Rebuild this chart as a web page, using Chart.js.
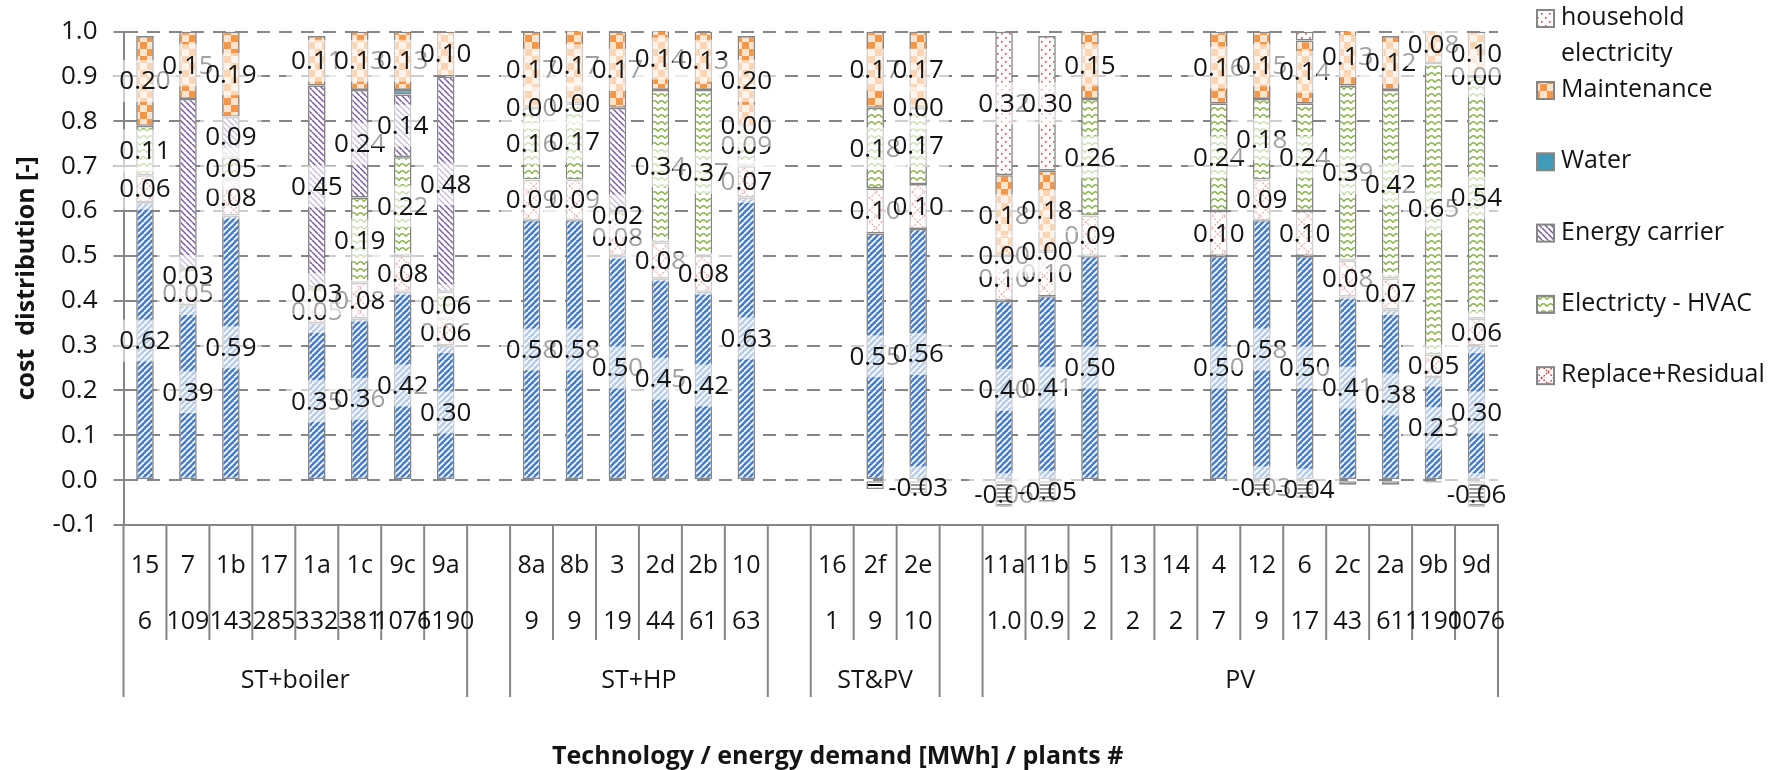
<!DOCTYPE html>
<html lang="en">
<head>
  <meta charset="UTF-8">
  <title>Cost distribution</title>
  <script src="https://cdn.jsdelivr.net/npm/chart.js"></script>
  <style>
    body { margin: 0; background: #fff; }
  </style>
</head>
<body>
  <canvas id="costChart" width="1784" height="770"></canvas>

  <script>
    // categories (empty entries are the gaps between the technology groups)
    const plants = ['15', '7', '1b', '17', '1a', '1c', '9c', '9a', '',
      '8a', '8b', '3', '2d', '2b', '10', '',
      '16', '2f', '2e', '',
      '11a', '11b', '5', '13', '14', '4', '12', '6', '2c', '2a', '9b', '9d'];
    const demand = ['6', '109', '143', '285', '332', '381', '1076', '1190', '',
      '9', '9', '19', '44', '61', '63', '',
      '1', '9', '10', '',
      '1.0', '0.9', '2', '2', '2', '7', '9', '17', '43', '61', '1190', '1076'];
    const groupNames = ['ST+boiler', '', 'ST+HP', '', 'ST&PV', '', 'PV'];
    const groupSizes = [8, 1, 6, 1, 3, 1, 12];

    // series values, bottom of the stack first
    const investment = [0.62, 0.39, 0.59, null, 0.35, 0.36, 0.42, 0.30, null,
      0.58, 0.58, 0.50, 0.45, 0.42, 0.63, null,
      null, 0.55, 0.56, null,
      0.40, 0.41, 0.50, null, null, 0.50, 0.58, 0.50, 0.41, 0.38, 0.23, 0.30];
    const replaceResidual = [0.06, 0.05, 0.08, null, 0.05, 0.08, 0.08, 0.06, null,
      0.09, 0.09, 0.08, 0.08, 0.08, 0.07, null,
      null, 0.10, 0.10, null,
      0.10, 0.10, 0.09, null, null, 0.10, 0.09, 0.10, 0.08, 0.07, 0.05, 0.06];
    const electricityHvac = [0.11, 0.03, 0.05, null, 0.03, 0.19, 0.22, 0.06, null,
      0.16, 0.17, 0.02, 0.34, 0.37, 0.09, null,
      null, 0.18, 0.17, null,
      null, null, 0.26, null, null, 0.24, 0.18, 0.24, 0.39, 0.42, 0.65, 0.54];
    const energyCarrier = [null, 0.38, 0.09, null, 0.45, 0.24, 0.14, 0.48, null,
      null, null, 0.23, null, null, null, null,
      null, null, null, null,
      null, null, null, null, null, null, null, null, null, null, null, null];
    const water = [null, null, null, null, null, null, 0.01, null, null,
      0.00, 0.00, null, null, null, 0.00, null,
      null, null, 0.00, null,
      0.00, 0.00, null, null, null, null, null, null, null, null, null, 0.00];
    const maintenance = [0.20, 0.15, 0.19, null, 0.11, 0.13, 0.13, 0.10, null,
      0.17, 0.17, 0.17, 0.14, 0.13, 0.20, null,
      null, 0.17, 0.17, null,
      0.18, 0.18, 0.15, null, null, 0.16, 0.15, 0.14, 0.13, 0.12, 0.08, 0.10];
    const householdElec = [null, null, null, null, null, null, null, null, null,
      null, null, null, null, null, null, null,
      null, null, null, null,
      0.32, 0.30, null, null, null, null, null, 0.02, null, null, null, null];
    const revenue = [null, null, null, null, null, null, null, null, null,
      null, null, null, null, null, null, null,
      null, -0.02, -0.03, null,
      -0.06, -0.05, null, null, null, null, -0.03, -0.04, -0.01, -0.01, -0.005, -0.06];

    // labels that are not visible in the original
    const hiddenLabels = {
      energyCarrier: ['7', '3'],
      water: ['9c'],
      household: ['6'],
      revenue: ['2f', '2c', '2a', '9b']
    };

    const gray = '#868686';
    const textColor = '#141414';
    const fontFamily = '"Open Sans", "Liberation Sans", sans-serif';

    const ctx = document.getElementById('costChart').getContext('2d');

    function makePattern(w, h, paint) {
      const c = document.createElement('canvas');
      c.width = w;
      c.height = h;
      const g = c.getContext('2d');
      g.fillStyle = '#fff';
      g.fillRect(0, 0, w, h);
      paint(g, w, h);
      return ctx.createPattern(c, 'repeat');
    }

    const patterns = {
      blue: makePattern(6, 6, (g, w, h) => {
        g.fillStyle = '#4a7fc4';
        g.fillRect(0, 0, w, h);
        g.strokeStyle = '#fff';
        g.lineWidth = 1.7;
        [-w, 0, w].forEach(k => { g.beginPath(); g.moveTo(k, h); g.lineTo(k + w, 0); g.stroke(); });
      }),
      red: makePattern(12, 12, (g, w, h) => {
        g.strokeStyle = '#c8423f';
        g.lineWidth = 1.3;
        g.setLineDash([2, 1.5]);
        g.beginPath(); g.moveTo(0, h); g.lineTo(w, 0); g.stroke();
        g.beginPath(); g.moveTo(0, 0); g.lineTo(w, h); g.stroke();
      }),
      green: makePattern(7, 7, (g) => {
        g.strokeStyle = '#8ab24a';
        g.lineWidth = 1.5;
        g.beginPath(); g.moveTo(0, 5.5); g.quadraticCurveTo(3.5, 0, 7, 5.5); g.stroke();
      }),
      purple: makePattern(6, 6, (g, w, h) => {
        g.strokeStyle = '#7a5aa6';
        g.lineWidth = 1.5;
        [-w, 0, w].forEach(k => { g.beginPath(); g.moveTo(k, 0); g.lineTo(k + w, h); g.stroke(); });
      }),
      teal: '#3f9bb8',
      orange: makePattern(14, 14, (g) => {
        g.fillStyle = '#fde4cf';
        g.fillRect(0, 0, 14, 14);
        g.fillStyle = '#f79646';
        g.fillRect(0, 0, 7, 7);
        g.fillRect(7, 7, 7, 7);
      }),
      dots: makePattern(8, 8, (g) => {
        g.fillStyle = '#c8423f';
        g.fillRect(1, 1, 1.6, 1.6);
        g.fillRect(5, 5, 1.6, 1.6);
      }),
      black: makePattern(4, 4, (g) => {
        g.fillStyle = '#000';
        g.fillRect(0, 0, 4, 2);
      })
    };

    const series = [
      { key: 'investment', label: 'Investment', data: investment, fill: patterns.blue, legend: false },
      { key: 'replace', label: 'Replace+Residual', data: replaceResidual, fill: patterns.red, legend: true },
      { key: 'hvac', label: 'Electricty - HVAC', data: electricityHvac, fill: patterns.green, legend: true },
      { key: 'energyCarrier', label: 'Energy carrier', data: energyCarrier, fill: patterns.purple, legend: true },
      { key: 'water', label: 'Water', data: water, fill: patterns.teal, legend: true },
      { key: 'maintenance', label: 'Maintenance', data: maintenance, fill: patterns.orange, legend: true },
      { key: 'household', label: 'household electricity', data: householdElec, fill: patterns.dots, legend: true },
      { key: 'revenue', label: 'Revenue', data: revenue, fill: patterns.black, legend: false }
    ];

    // value labels with the semi-transparent white box
    const barLabels = {
      id: 'barLabels',
      afterDatasetsDraw(chart) {
        const c = chart.ctx;
        c.save();
        c.font = '26px ' + fontFamily;
        c.textAlign = 'center';
        c.textBaseline = 'middle';
        series.forEach((s, di) => {
          const meta = chart.getDatasetMeta(di);
          const hide = hiddenLabels[s.key] || [];
          s.data.forEach((v, i) => {
            if (v === null || hide.includes(plants[i])) return;
            const el = meta.data[i];
            const cx = el.x;
            const cy = (el.y + el.base) / 2;
            const txt = v.toFixed(2);
            const tw = c.measureText(txt).width;
            c.fillStyle = 'rgba(255,255,255,0.6)';
            c.fillRect(cx - tw / 2 - 5, cy - 21, tw + 10, 42);
            c.fillStyle = textColor;
            c.fillText(txt, cx, cy + 1);
          });
        });
        c.restore();
      }
    };

    // multi level category axis, axis titles and legend
    const decorations = {
      id: 'decorations',
      afterDraw(chart) {
        const c = chart.ctx;
        const area = chart.chartArea;
        const x = chart.scales.x;
        const half = (x.getPixelForValue(1) - x.getPixelForValue(0)) / 2;
        const y0 = area.bottom;

        const groupEdges = new Set([0]);
        let k = 0;
        groupSizes.forEach(n => { k += n; groupEdges.add(k); });

        c.save();
        c.strokeStyle = gray;
        c.lineWidth = 2;
        for (let i = 0; i <= plants.length; i++) {
          const bx = i < plants.length ? x.getPixelForValue(i) - half : x.getPixelForValue(i - 1) + half;
          c.beginPath();
          c.moveTo(bx, y0);
          c.lineTo(bx, groupEdges.has(i) ? y0 + 172 : y0 + 115);
          c.stroke();
        }

        c.fillStyle = textColor;
        c.font = '25px ' + fontFamily;
        c.textAlign = 'center';
        c.textBaseline = 'middle';
        plants.forEach((p, i) => {
          const cx = x.getPixelForValue(i);
          c.fillText(p, cx, y0 + 41);
          c.fillText(demand[i], cx, y0 + 97);
        });
        let start = 0;
        groupSizes.forEach((n, g) => {
          const mid = (x.getPixelForValue(start) + x.getPixelForValue(start + n - 1)) / 2;
          c.fillText(groupNames[g], mid, y0 + 156);
          start += n;
        });

        // axis titles
        c.font = 'bold 25px ' + fontFamily;
        c.fillText('Technology / energy demand [MWh] / plants #', (area.left + area.right) / 2 + 27, y0 + 232);
        c.save();
        c.translate(27, (area.top + area.bottom) / 2);
        c.rotate(-Math.PI / 2);
        c.fillText('cost  distribution [-]', 0, 0);
        c.restore();

        // legend (top entry first, as in the original)
        c.font = '25px ' + fontFamily;
        c.textAlign = 'left';
        const boxX = area.right + 39;
        const textX = area.right + 63;
        const maxW = chart.width - textX - 2;
        const items = series.filter(s => s.legend).reverse();
        let y = 18;
        items.forEach((s, idx) => {
          let lines = [s.label];
          if (c.measureText(s.label).width > maxW) {
            const words = s.label.split(' ');
            lines = [words.slice(0, -1).join(' '), words[words.length - 1]];
          }
          c.fillStyle = s.fill;
          c.fillRect(boxX, y - 8, 17, 17);
          c.strokeStyle = gray;
          c.lineWidth = 2;
          c.strokeRect(boxX, y - 8, 17, 17);
          c.fillStyle = textColor;
          lines.forEach((ln, li) => c.fillText(ln, textX, y + li * 36));
          y = idx === 0 ? 90 : y + 71.3;
        });
        c.restore();
      }
    };

    new Chart(ctx, {
      type: 'bar',
      data: {
        labels: plants,
        datasets: series.map(s => ({
          label: s.label,
          data: s.data,
          backgroundColor: s.fill,
          borderColor: gray,
          borderWidth: 1.6,
          borderSkipped: false
        }))
      },
      options: {
        responsive: false,
        animation: false,
        devicePixelRatio: 1,
        layout: { padding: { top: 24, right: 286, bottom: 245, left: 0 } },
        datasets: { bar: { barPercentage: 0.41, categoryPercentage: 1 } },
        plugins: {
          legend: { display: false },
          tooltip: { enabled: false }
        },
        scales: {
          x: {
            stacked: true,
            ticks: { display: false },
            grid: { display: false, drawTicks: false },
            border: { display: true, color: gray, width: 2 }
          },
          y: {
            stacked: true,
            min: -0.1,
            max: 1.0,
            afterFit(scale) { scale.width = 123.5; },
            ticks: {
              stepSize: 0.1,
              padding: 16,
              color: textColor,
              font: { family: fontFamily, size: 26 },
              callback: v => v.toFixed(1)
            },
            grid: { color: gray, lineWidth: 2, tickLength: 10, tickColor: gray },
            border: { display: true, color: gray, width: 2, dash: [13, 9] }
          }
        }
      },
      plugins: [barLabels, decorations]
    });
  </script>
</body>
</html>
